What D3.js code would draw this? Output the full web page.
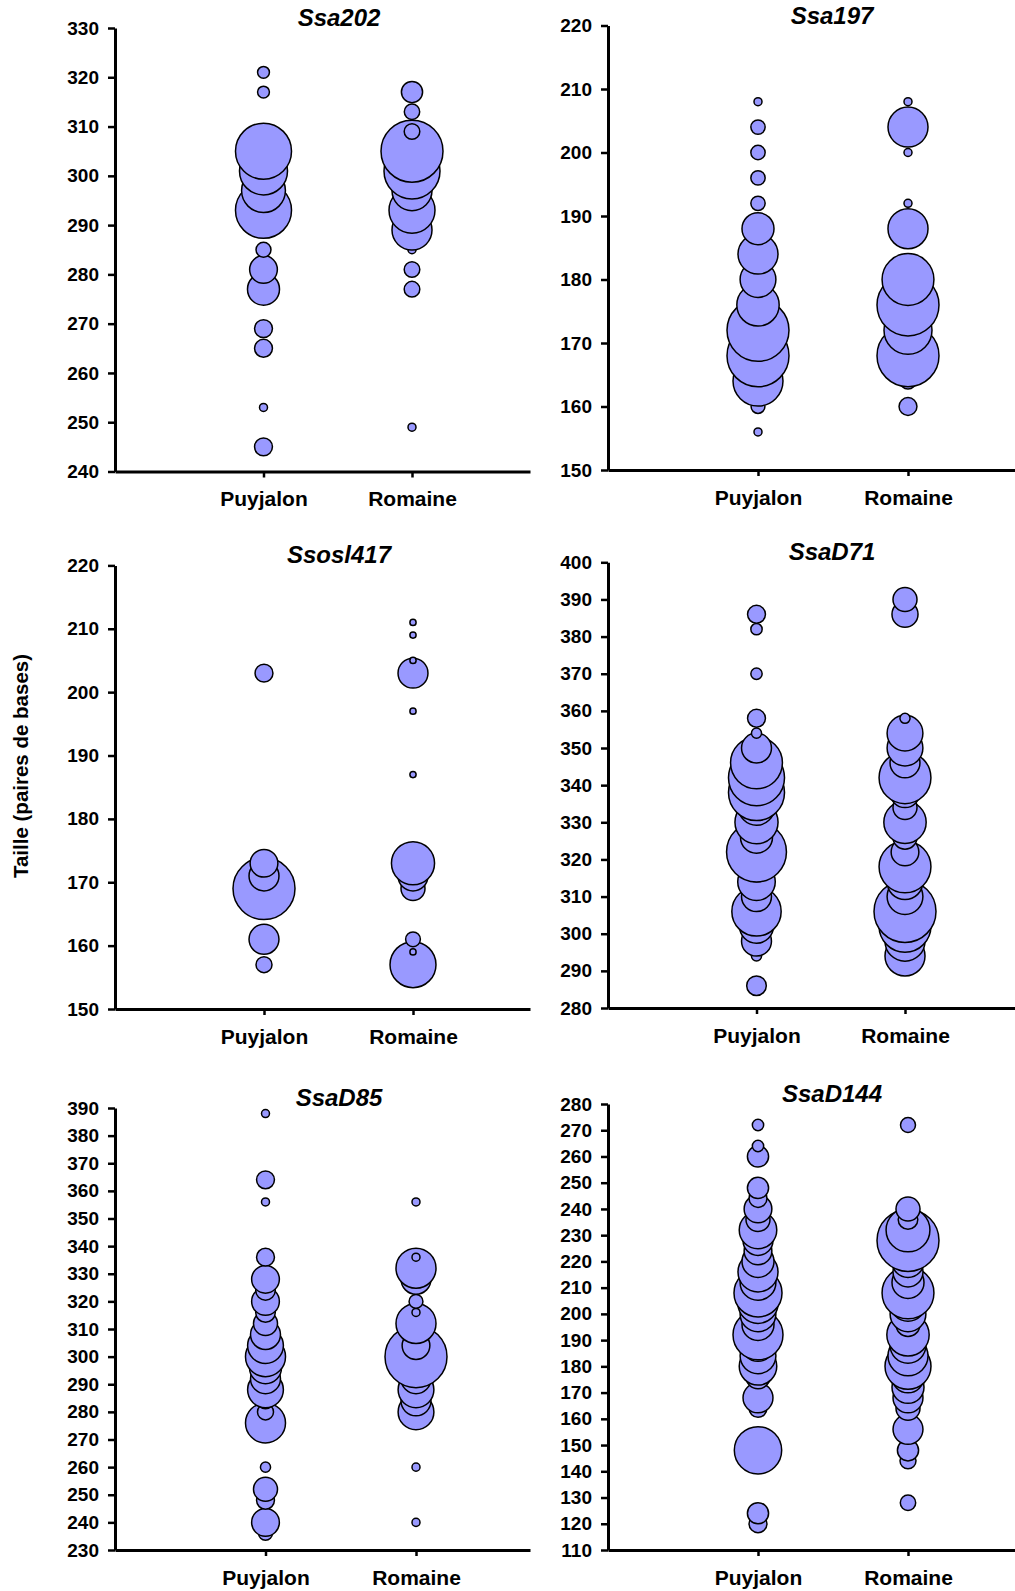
<!DOCTYPE html>
<html>
<head>
<meta charset="utf-8">
<script src="https://cdn.jsdelivr.net/npm/d3@7"></script>
<style>
  body { margin: 0; background: #fff; }
  svg { display: block; }
</style>
</head>
<body>
<svg id="drawing_region"></svg>
<script>
// populations on the x axis
const populations = ['Puyjalon', 'Romaine'];

// allele sizes (pb) and bubble sizes (relative counts) for each locus
const ssa202_alleles   = [321, 317, 313, 309, 305, 301, 297, 293, 289, 285, 281, 277, 269, 265, 253, 249, 245];
const ssa202_puyjalon  = [2.2, 2.2, 0, 0, 49, 36, 30, 49, 0, 3.5, 12, 16, 5, 5, 1, 0, 5];
const ssa202_romaine   = [0, 7, 3.7, 3.8, 60, 49, 25, 33, 25, 1, 3.8, 3.8, 0, 0, 0, 1, 0];

const ssa197_alleles   = [208, 204, 200, 196, 192, 188, 184, 180, 176, 172, 168, 164, 160, 156];
const ssa197_puyjalon  = [1, 3.2, 3.2, 3.2, 3.2, 16, 25, 20, 28, 60, 60, 39, 3, 1];
const ssa197_romaine   = [1, 25, 1, 0, 1, 25, 0, 42, 60, 36, 60, 4, 5, 0];

const ssosl417_alleles  = [211, 209, 205, 203, 197, 187, 173, 171, 169, 161, 159, 157];
const ssosl417_puyjalon = [0, 0, 0, 5, 0, 0, 12, 14, 60, 14, 0, 4];
const ssosl417_romaine  = [0.6, 0.6, 0.6, 14, 0.6, 0.6, 29, 14, 9, 3.4, 0.6, 33];

const ssad71_alleles   = [390, 386, 382, 370, 358, 354, 350, 346, 342, 338, 334, 330, 326, 322, 318, 314, 310, 306, 302, 298, 294, 286];
const ssad71_puyjalon  = [0, 5, 2, 2, 5, 1.6, 14, 42, 49, 49, 20, 29, 16, 56, 14, 22, 14, 38, 18, 14, 1.6, 6];
const ssad71_romaine   = [9, 10.6, 0, 0, 1.6, 20, 20, 14, 42, 14, 9, 28, 9, 12, 42, 20, 20, 60, 42, 25, 25, 0];

const ssad85_alleles   = [388, 364, 356, 336, 332, 328, 324, 320, 316, 312, 308, 304, 300, 296, 292, 288, 284, 280, 276, 260, 252, 248, 240, 236];
const ssad85_puyjalon  = [1, 5, 1, 5, 0, 12, 6, 12, 6, 9, 14, 20, 25, 16, 14, 20, 4, 4, 25, 1.6, 9, 5, 12, 3];
const ssad85_romaine   = [0, 0, 1, 1, 25, 14, 0, 3, 1, 25, 0, 12, 60, 0, 14, 20, 14, 20, 0, 1, 0, 0, 1, 0];

const ssad144_alleles  = [272, 264, 260, 248, 244, 240, 236, 232, 228, 224, 220, 216, 212, 208, 204, 200, 196, 192, 188, 184, 180, 176, 172, 168, 164, 156, 148, 144, 128, 124, 120];
const ssad144_puyjalon = [2, 2, 7, 7, 5, 12, 9, 22, 14, 12, 16, 25, 20, 36, 25, 20, 16, 39, 16, 20, 22, 9, 0, 14, 5, 0, 35, 0, 0, 7, 5];
const ssad144_romaine  = [3.5, 0, 0, 0, 0, 9, 6, 30, 60, 20, 16, 14, 16, 42, 20, 20, 9, 28, 20, 25, 33, 16, 16, 14, 9, 14, 7, 4, 3.7, 0, 0];

// y axis ranges
const ssa202_range   = [240, 330];
const ssa197_range   = [150, 220];
const ssosl417_range = [150, 220];
const ssad71_range   = [280, 400];
const ssad85_range   = [230, 390];
const ssad144_range  = [110, 280];

const svg = d3.select('#drawing_region')
    .attr('width', 1015)
    .attr('height', 1591);

// one bubble size scale for all panels
const rScale = d3.scaleSqrt().domain([0, 60]).range([0, 31]);

class BubblePanel {

    constructor( config, alleles, puy, rom ) {
        this.config = config;
        this.data = [];
        alleles.forEach( (a, i) => {
            if (puy[i] > 0) this.data.push({ pop: 0, size: a, n: puy[i] });
            if (rom[i] > 0) this.data.push({ pop: 1, size: a, n: rom[i] });
        });
        // lower alleles first so upper bubbles sit on top (as in the original)
        this.data.sort( (a, b) => a.pop - b.pop || a.size - b.size );
        this.init();
    }

    init() {
        let self = this;
        let c = self.config;

        self.g = svg.append('g');

        self.yScale = d3.scaleLinear()
            .domain(c.range)
            .range([c.bottom, c.top]);

        let xMax = (c.xEnd - c.axisX) / c.gap;
        self.xScale = d3.scaleLinear()
            .domain([0, xMax])
            .range([c.axisX, c.xEnd]);
    }

    render() {
        let self = this;
        let c = self.config;

        self.g.selectAll('circle')
            .data(self.data)
            .enter()
            .append('circle')
            .attr('cx', d => self.xScale(d.pop + 1))
            .attr('cy', d => self.yScale(d.size))
            .attr('r', d => rScale(d.n))
            .attr('fill', '#9999ff')
            .attr('stroke', '#000')
            .attr('stroke-width', 1.5);

        const yAxis = d3.axisLeft(self.yScale)
            .tickValues(d3.range(c.range[0], c.range[1] + 1, 10))
            .tickSize(7)
            .tickSizeOuter(0)
            .tickPadding(9);

        const ya = self.g.append('g')
            .attr('transform', `translate(${c.axisX},0)`)
            .call(yAxis);

        const xAxis = d3.axisBottom(self.xScale)
            .tickValues([1, 2])
            .tickFormat(d => populations[d - 1])
            .tickSize(6)
            .tickSizeOuter(0)
            .tickPadding(14);

        const xa = self.g.append('g')
            .attr('transform', `translate(0,${c.bottom})`)
            .call(xAxis);

        [ya, xa].forEach( a => {
            a.select('.domain').attr('stroke', '#000').attr('stroke-width', 3);
            a.selectAll('.tick line').attr('stroke', '#000').attr('stroke-width', 2.5);
            a.selectAll('text')
                .attr('fill', '#000')
                .style('font-family', '"Liberation Sans", Arial, sans-serif')
                .style('font-weight', 'bold');
        });
        ya.selectAll('text').style('font-size', '19px');
        xa.selectAll('text').style('font-size', '21px');

        self.g.append('text')
            .attr('x', c.axisX + 224)
            .attr('y', c.top - 2)
            .attr('text-anchor', 'middle')
            .style('font-family', '"Liberation Sans", Arial, sans-serif')
            .style('font-weight', 'bold')
            .style('font-style', 'italic')
            .style('font-size', '24px')
            .text(c.title);
    }
}

const panels = [
    { title: 'Ssa202',   range: ssa202_range,   axisX: 115, top: 28,    bottom: 471.5, xEnd: 530,  gap: 148.5, a: ssa202_alleles,   p: ssa202_puyjalon,   r: ssa202_romaine },
    { title: 'Ssa197',   range: ssa197_range,   axisX: 608, top: 25.5,  bottom: 470,   xEnd: 1015, gap: 150,   a: ssa197_alleles,   p: ssa197_puyjalon,   r: ssa197_romaine },
    { title: 'Ssosl417', range: ssosl417_range, axisX: 115, top: 565.4, bottom: 1009,  xEnd: 530,  gap: 149,   a: ssosl417_alleles, p: ssosl417_puyjalon, r: ssosl417_romaine },
    { title: 'SsaD71',   range: ssad71_range,   axisX: 608, top: 562.3, bottom: 1008,  xEnd: 1015, gap: 148.5, a: ssad71_alleles,   p: ssad71_puyjalon,   r: ssad71_romaine },
    { title: 'SsaD85',   range: ssad85_range,   axisX: 115, top: 1108,  bottom: 1550,  xEnd: 530,  gap: 150.5, a: ssad85_alleles,   p: ssad85_puyjalon,   r: ssad85_romaine },
    { title: 'SsaD144',  range: ssad144_range,  axisX: 608, top: 1104,  bottom: 1550,  xEnd: 1015, gap: 150,   a: ssad144_alleles,  p: ssad144_puyjalon,  r: ssad144_romaine }
];

panels.forEach( cfg => {
    const panel = new BubblePanel( cfg, cfg.a, cfg.p, cfg.r );
    panel.render();
});

svg.append('text')
    .attr('transform', 'translate(28,766) rotate(-90)')
    .attr('text-anchor', 'middle')
    .style('font-family', '"Liberation Sans", Arial, sans-serif')
    .style('font-weight', 'bold')
    .style('font-size', '20.5px')
    .text('Taille (paires de bases)');
</script>
</body>
</html>
